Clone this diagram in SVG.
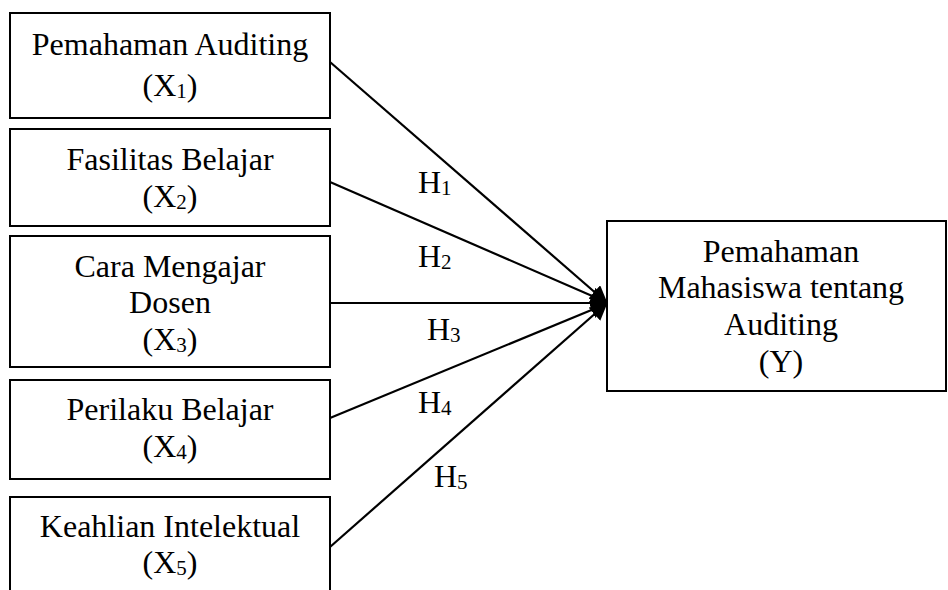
<svg xmlns="http://www.w3.org/2000/svg" width="948" height="590" viewBox="0 0 948 590">
<style>
.box{fill:#fff;stroke:#000;stroke-width:2}
.t{font-family:"Liberation Serif","Times New Roman",serif;font-size:32px;fill:#000;text-anchor:middle}
.s{font-size:21px}
.h{font-family:"Liberation Serif","Times New Roman",serif;font-size:32px;fill:#000}
.c{stroke:#000;stroke-width:2.2;fill:none;marker-end:url(#ah)}
</style>
<defs>
<marker id="ah" markerWidth="8" markerHeight="8" refX="7" refY="4" orient="auto" markerUnits="strokeWidth">
<path d="M0,0 L8,4 L0,8 Z" fill="#000"/>
</marker>
</defs>
<g id="x1"><rect class="box" x="10" y="13" width="320" height="105"/>
<text class="t" x="170" y="55">Pemahaman Auditing</text>
<text class="t" x="170" y="96">(X<tspan class="s" dy="2">1</tspan><tspan dy="-2">)</tspan></text></g>
<g id="x2"><rect class="box" x="10" y="129" width="320" height="97"/>
<text class="t" x="170" y="170">Fasilitas Belajar</text>
<text class="t" x="170" y="207">(X<tspan class="s" dy="2">2</tspan><tspan dy="-2">)</tspan></text></g>
<g id="x3"><rect class="box" x="10" y="236" width="320" height="131"/>
<text class="t" x="170" y="277">Cara Mengajar</text>
<text class="t" x="170" y="313">Dosen</text>
<text class="t" x="170" y="350">(X<tspan class="s" dy="2">3</tspan><tspan dy="-2">)</tspan></text></g>
<g id="x4"><rect class="box" x="10" y="380" width="320" height="99"/>
<text class="t" x="170" y="420">Perilaku Belajar</text>
<text class="t" x="170" y="457">(X<tspan class="s" dy="2">4</tspan><tspan dy="-2">)</tspan></text></g>
<g id="x5"><rect class="box" x="10" y="497" width="320" height="110"/>
<text class="t" x="170" y="537">Keahlian Intelektual</text>
<text class="t" x="170" y="573">(X<tspan class="s" dy="2">5</tspan><tspan dy="-2">)</tspan></text></g>
<g id="y"><rect class="box" x="607" y="221" width="339" height="170"/>
<text class="t" x="781" y="262">Pemahaman</text>
<text class="t" x="781" y="298">Mahasiswa tentang</text>
<text class="t" x="781" y="335">Auditing</text>
<text class="t" x="781" y="372">(Y)</text></g>
<g id="connectors">
<line class="c" x1="330" y1="62" x2="606" y2="302"/>
<line class="c" x1="330" y1="182" x2="606" y2="302"/>
<line class="c" x1="330" y1="303" x2="606" y2="303"/>
<line class="c" x1="330" y1="418" x2="606" y2="304"/>
<line class="c" x1="330" y1="547" x2="606" y2="304"/>
<text class="h" x="418" y="193">H<tspan class="s" dy="2">1</tspan></text>
<text class="h" x="418" y="267">H<tspan class="s" dy="2">2</tspan></text>
<text class="h" x="427" y="340">H<tspan class="s" dy="2">3</tspan></text>
<text class="h" x="418" y="413">H<tspan class="s" dy="2">4</tspan></text>
<text class="h" x="434" y="487">H<tspan class="s" dy="2">5</tspan></text>
</g>
</svg>
